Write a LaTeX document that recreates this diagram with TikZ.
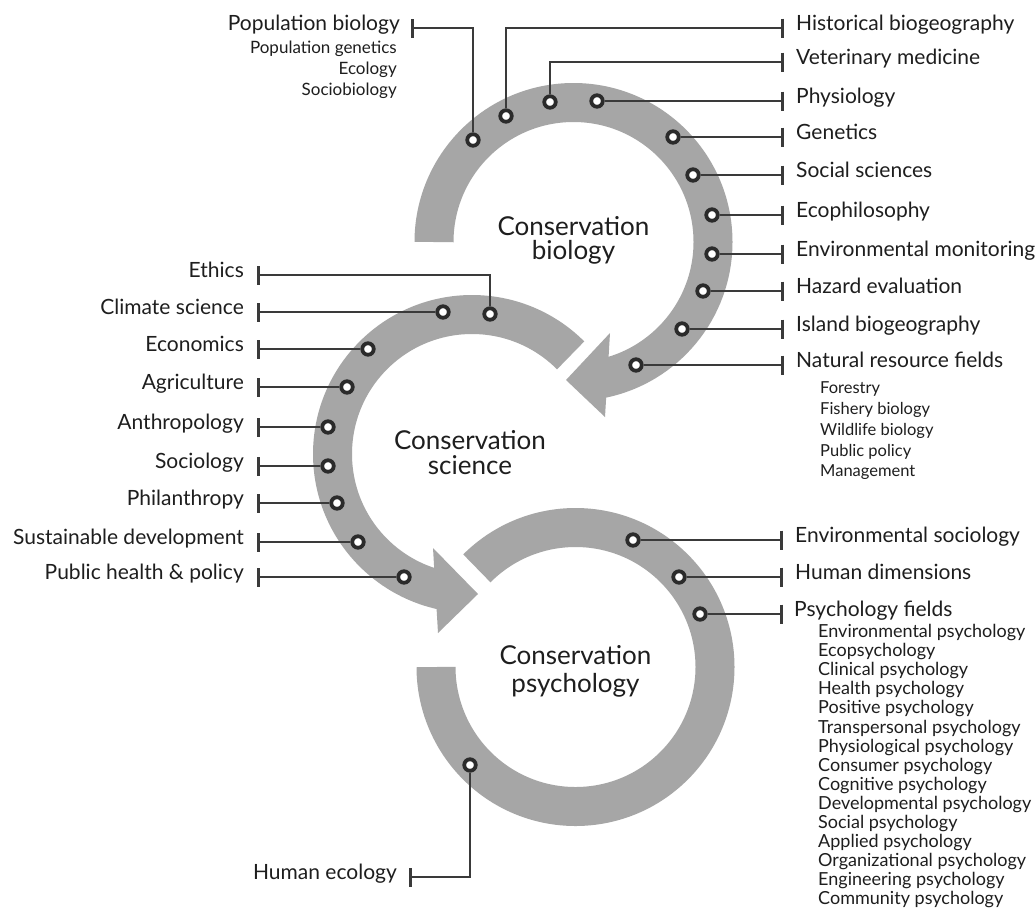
\documentclass[tikz,border=0pt]{standalone}
\usepackage{fontspec}
\setmainfont{Lato}
\usetikzlibrary{arrows.meta}
\definecolor{ringgray}{HTML}{A6A6A6}
\definecolor{linec}{HTML}{3A3A3A}
\definecolor{dotc}{HTML}{2B2B2B}
\definecolor{txt}{HTML}{1E1E1E}
\pgfdeclarelayer{rings}
\pgfdeclarelayer{conns}
\pgfsetlayers{rings,conns,main}
\begin{document}
\begin{tikzpicture}[x=1pt,y=-1pt,
  ringarc/.style={draw=ringgray, line width=39pt},
  ringhead/.style={fill=ringgray},
  conn/.style={draw=linec, line width=2.3pt, -{Bar[width=19pt, line width=2.7pt]}},
  dot/.style={circle, draw=dotc, fill=white, line width=3.8pt, minimum size=11.5pt, inner sep=0pt},
  lab/.style={font=\fontsize{21}{25}\selectfont, inner sep=0pt, text=txt},
  labr/.style={lab, anchor=mid west},
  labl/.style={lab, anchor=mid east},
  subr/.style={font=\fontsize{16.5}{19}\selectfont, inner sep=0pt, anchor=mid west, text=txt},
  subl/.style={font=\fontsize{17}{19}\selectfont, inner sep=0pt, anchor=mid east, text=txt},
  psub/.style={font=\fontsize{18}{19}\selectfont, inner sep=0pt, anchor=mid west, text=txt},
  ttl/.style={font=\fontsize{26}{30}\selectfont, inner sep=0pt, anchor=base, text=txt}
]
\begin{pgfonlayer}{rings}
\fill[white] (0,0) rectangle (1036,922);
\draw[ringarc] (573.5,242) ++(-180:139.5) arc[start angle=-180, end angle=79, radius=139.5];
\fill[ringhead] (610,333) -- (566,380) -- (605,417) -- cycle;
\draw[ringarc] (472,454) ++(-45:139.5) arc[start angle=-45, end angle=-259, radius=139.5];
\fill[ringhead] (433,548) -- (478,594) -- (438,633) -- cycle;
\draw[ringarc] (575.5,667) ++(-135:139.5) arc[start angle=-135, end angle=180, radius=139.5];
\end{pgfonlayer}

% titles
\node[ttl] (t1a) at (573.5,235) {Conservation};
\node[ttl] (t1b) at (573.5,259.5) {biology};
\node[ttl] (t2a) at (470,449) {Conservation};
\node[ttl] (t2b) at (470,474) {science};
\node[ttl] (t3a) at (575.5,664) {Conservation};
\node[ttl] (t3b) at (575.5,692) {psychology};

% top ring dots
\node[dot] (b1) at (473,140) {};
\node[dot] (b2) at (506,116) {};
\node[dot] (b3) at (550,102) {};
\node[dot] (b4) at (597,101) {};
\node[dot] (b5) at (673,137) {};
\node[dot] (b6) at (693,175) {};
\node[dot] (b7) at (712,215) {};
\node[dot] (b8) at (712,254) {};
\node[dot] (b9) at (703,291) {};
\node[dot] (b10) at (682,329) {};
\node[dot] (b11) at (636,365) {};
\coordinate (e1) at (411,28);
\coordinate (e2) at (784,28);
\coordinate (e3) at (784,62);
\coordinate (e4) at (784,101);
\coordinate (e5) at (784,137);
\coordinate (e6) at (784,175);
\coordinate (e7) at (784,215);
\coordinate (e8) at (784,254);
\coordinate (e9) at (784,291);
\coordinate (e10) at (784,329);
\coordinate (e11) at (784,365);

% middle ring dots
\node[dot] (m1) at (490,314) {};
\node[dot] (m2) at (443,312) {};
\node[dot] (m3) at (368,349) {};
\node[dot] (m4) at (347,387) {};
\node[dot] (m5) at (328,427) {};
\node[dot] (m6) at (328,466) {};
\node[dot] (m7) at (337,503) {};
\node[dot] (m8) at (358,542) {};
\node[dot] (m9) at (404,577) {};
\coordinate (f1) at (257,275);
\coordinate (f2) at (257,312);
\coordinate (f3) at (257,349);
\coordinate (f4) at (257,387);
\coordinate (f5) at (257,427);
\coordinate (f6) at (257,466);
\coordinate (f7) at (257,503);
\coordinate (f8) at (257,542);
\coordinate (f9) at (257,577);

% bottom ring dots
\node[dot] (p1) at (633,540) {};
\node[dot] (p2) at (679,577) {};
\node[dot] (p3) at (700,614) {};
\node[dot] (p4) at (470,765) {};
\coordinate (g1) at (783,540);
\coordinate (g2) at (783,577);
\coordinate (g3) at (783,614);
\coordinate (g4) at (409,877);

\begin{pgfonlayer}{conns}
\draw[conn] (b1) |- (e1);
\draw[conn] (b2) |- (e2);
\draw[conn] (b3) |- (e3);
\draw[conn] (b4) -- (e4);
\draw[conn] (b5) -- (e5);
\draw[conn] (b6) -- (e6);
\draw[conn] (b7) -- (e7);
\draw[conn] (b8) -- (e8);
\draw[conn] (b9) -- (e9);
\draw[conn] (b10) -- (e10);
\draw[conn] (b11) -- (e11);
\draw[conn] (m1) |- (f1);
\draw[conn] (m2) -- (f2);
\draw[conn] (m3) -- (f3);
\draw[conn] (m4) -- (f4);
\draw[conn] (m5) -- (f5);
\draw[conn] (m6) -- (f6);
\draw[conn] (m7) -- (f7);
\draw[conn] (m8) -- (f8);
\draw[conn] (m9) -- (f9);
\draw[conn] (p1) -- (g1);
\draw[conn] (p2) -- (g2);
\draw[conn] (p3) -- (g3);
\draw[conn] (p4) |- (g4);
\end{pgfonlayer}

% top labels
\node[labl] (l1) at (400,28) {Population biology};
\node[subl] (l1a) at (397,51) {Population genetics};
\node[subl] (l1b) at (397,72) {Ecology};
\node[subl] (l1c) at (397,93) {Sociobiology};
\node[labr] (l2) at (796,28) {Historical biogeography};
\node[labr] (l3) at (796,62) {Veterinary medicine};
\node[labr] (l4) at (796,101) {Physiology};
\node[labr] (l5) at (796,137) {Genetics};
\node[labr] (l6) at (796,175) {Social sciences};
\node[labr] (l7) at (796,215) {Ecophilosophy};
\node[labr] (l8) at (796,254) {Environmental monitoring};
\node[labr] (l9) at (796,291) {Hazard evaluation};
\node[labr] (l10) at (796,329) {Island biogeography};
\node[labr] (l11) at (796,365) {Natural resource fields};
\node[subr] (l11a) at (820,391) {Forestry};
\node[subr] (l11b) at (820,412) {Fishery biology};
\node[subr] (l11c) at (820,433) {Wildlife biology};
\node[subr] (l11d) at (820,454) {Public policy};
\node[subr] (l11e) at (820,474) {Management};

% middle labels
\node[labl] (k1) at (244,275) {Ethics};
\node[labl] (k2) at (244,312) {Climate science};
\node[labl] (k3) at (244,349) {Economics};
\node[labl] (k4) at (244,387) {Agriculture};
\node[labl] (k5) at (244,427) {Anthropology};
\node[labl] (k6) at (244,466) {Sociology};
\node[labl] (k7) at (244,503) {Philanthropy};
\node[labl] (k8) at (244,542) {Sustainable development};
\node[labl] (k9) at (244,577) {Public health \& policy};

% bottom labels
\node[labr] (q1) at (795,540) {Environmental sociology};
\node[labr] (q2) at (795,577) {Human dimensions};
\node[labr] (q3) at (794,614) {Psychology fields};
\node[labl] (q4) at (397,877) {Human ecology};
\node[psub] (s1) at (818,635) {Environmental psychology};
\node[psub] (s2) at (818,654.1) {Ecopsychology};
\node[psub] (s3) at (818,673.2) {Clinical psychology};
\node[psub] (s4) at (818,692.3) {Health psychology};
\node[psub] (s5) at (818,711.4) {Positive psychology};
\node[psub] (s6) at (818,730.5) {Transpersonal psychology};
\node[psub] (s7) at (818,749.6) {Physiological psychology};
\node[psub] (s8) at (818,768.7) {Consumer psychology};
\node[psub] (s9) at (818,787.8) {Cognitive psychology};
\node[psub] (s10) at (818,806.9) {Developmental psychology};
\node[psub] (s11) at (818,826) {Social psychology};
\node[psub] (s12) at (818,845.1) {Applied psychology};
\node[psub] (s13) at (818,864.2) {Organizational psychology};
\node[psub] (s14) at (818,883.3) {Engineering psychology};
\node[psub] (s15) at (818,902.4) {Community psychology};
\end{tikzpicture}
\end{document}
